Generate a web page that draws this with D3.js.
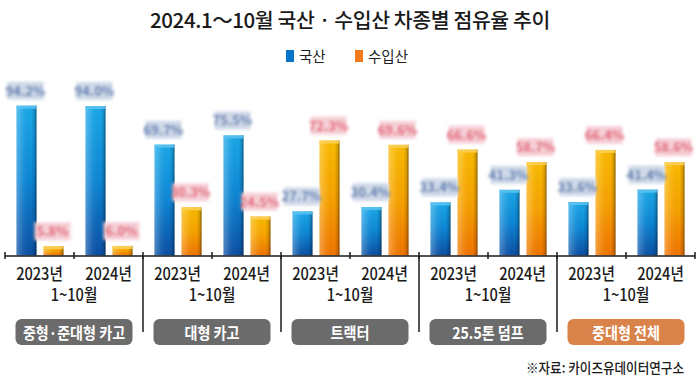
<!DOCTYPE html>
<html><head><meta charset="utf-8">
<script src="https://cdn.jsdelivr.net/npm/d3@7"></script>
<style>
html,body{margin:0;padding:0;background:#fff;}
svg{display:block;font-family:"Noto Sans CJK KR","Noto Sans",sans-serif;}
</style></head>
<body><svg id="chart" width="700" height="383"></svg>
<script>
const title = "2024.1～10월 국산 · 수입산 차종별 점유율 추이";
const groups = ["중형·준대형 카고", "대형 카고", "트랙터", "25.5톤 덤프", "중대형 전체"];
const periods = ["2023년", "2024년"];
const periodNote = "1~10월";
const series = ["국산", "수입산"];
const domestic2023 = [94.2, 69.7, 27.7, 33.4, 33.6];
const domestic2024 = [94.0, 75.5, 30.4, 41.3, 41.4];
const imported2023 = [5.8, 30.3, 72.3, 66.6, 66.4];
const imported2024 = [6.0, 24.5, 69.6, 58.7, 58.6];
const source = "※자료: 카이즈유데이터연구소";

const data = [];
groups.forEach((g, i) => {
  data.push({group: g, period: periods[0], series: series[0], value: domestic2023[i]});
  data.push({group: g, period: periods[0], series: series[1], value: imported2023[i]});
  data.push({group: g, period: periods[1], series: series[0], value: domestic2024[i]});
  data.push({group: g, period: periods[1], series: series[1], value: imported2024[i]});
});

const svg = d3.select("#chart");
const defs = svg.append("defs");

function vgrad(id, stops) {
  const g = defs.append("linearGradient").attr("id", id).attr("x1", 0).attr("y1", 0).attr("x2", 0).attr("y2", 1);
  stops.forEach(s => g.append("stop").attr("offset", s[0]).attr("stop-color", s[1]).attr("stop-opacity", s[2] == null ? 1 : s[2]));
}
function hgrad(id, stops) {
  const g = defs.append("linearGradient").attr("id", id).attr("x1", 0).attr("y1", 0).attr("x2", 1).attr("y2", 0);
  stops.forEach(s => g.append("stop").attr("offset", s[0]).attr("stop-color", s[1]).attr("stop-opacity", s[2] == null ? 1 : s[2]));
}
vgrad("gBlue", [[0, "#1aa8e8"], [0.5, "#0d86d4"], [1, "#0c4fa3"]]);
vgrad("gOrange", [[0, "#f9ba00"], [0.5, "#f6a200"], [1, "#ef7400"]]);
hgrad("gShade", [[0, "#ffffff", 0.28], [0.35, "#ffffff", 0.06], [0.75, "#000000", 0], [0.9, "#000000", 0.15], [1, "#000000", 0.45]]);
defs.append("filter").attr("id", "blur").attr("x", "-20%").attr("y", "-40%").attr("width", "140%").attr("height", "180%")
  .append("feGaussianBlur").attr("stdDeviation", 1.6);

const colors = {"국산": "#0a73c8", "수입산": "#f07a1c"};
const fills = {"국산": "url(#gBlue)", "수입산": "url(#gOrange)"};
const caps = {"국산": "#5cc3f0", "수입산": "#fcd05a"};

const x0 = d3.scaleBand().domain(groups).range([5, 695]);
const x1 = d3.scaleBand().domain(periods).range([0, x0.bandwidth()]);
const x2 = d3.scaleBand().domain(series).range([11.5, 58.5]).paddingInner(0.26);
const y = d3.scaleLinear().domain([0, 100]).range([255.5, 96.5]);

// title
svg.append("text").attr("x", 350).attr("y", 28).attr("text-anchor", "middle")
  .attr("font-size", 20.5).attr("font-weight", 500).attr("fill", "#1a1a1a").attr("letter-spacing", -0.4)
  .text(title);

// legend
const legendItems = [{s: series[0], x: 286}, {s: series[1], x: 355}];
const lg = svg.append("g");
legendItems.forEach(it => {
  lg.append("rect").attr("x", it.x).attr("y", 50).attr("width", 8).attr("height", 12).attr("fill", colors[it.s]);
  lg.append("text").attr("x", it.x + 13).attr("y", 61.5).attr("font-size", 14.5).attr("fill", "#222").text(it.s);
});

// bars
const gb = svg.append("g");
const bars = gb.selectAll("g.bar").data(data).join("g").attr("class", "bar")
  .attr("transform", d => `translate(${x0(d.group) + x1(d.period) + x2(d.series)},0)`);
bars.append("rect").attr("x", 0).attr("y", d => y(d.value)).attr("width", x2.bandwidth())
  .attr("height", d => y(0) - y(d.value)).attr("fill", d => fills[d.series]);
bars.append("rect").attr("x", 0).attr("y", d => y(d.value)).attr("width", x2.bandwidth())
  .attr("height", d => y(0) - y(d.value)).attr("fill", "url(#gShade)");
bars.append("rect").attr("x", 0).attr("y", d => y(d.value)).attr("width", x2.bandwidth())
  .attr("height", d => Math.min(3, y(0) - y(d.value))).attr("fill", d => caps[d.series]).attr("opacity", 0.85);

// value labels (blurred as in reference)
const lab = gb.selectAll("g.lab").data(data).join("g").attr("class", "lab")
  .attr("transform", d => `translate(${x0(d.group) + x1(d.period) + x2(d.series) + x2.bandwidth() / 2 - 1},${y(d.value) - 15})`)
  .attr("filter", "url(#blur)");
lab.append("rect").attr("x", -18).attr("y", -9).attr("width", 36).attr("height", 18)
  .attr("fill", d => d.series === series[0] ? "#cfd9e8" : "#f6d0d7");
lab.append("text").attr("text-anchor", "middle").attr("y", 5).attr("font-size", 13).attr("font-weight", 700)
  .attr("fill", d => d.series === series[0] ? "#5577ad" : "#e0566e")
  .text(d => d.value.toFixed(1) + "%");

// axis
const ax = svg.append("g").attr("stroke", "#1a1a1a").attr("stroke-width", 1.5);
ax.append("line").attr("x1", 5).attr("x2", 695).attr("y1", 256).attr("y2", 256);
const subTicks = [];
groups.forEach(g => { periods.forEach(p => subTicks.push(x0(g) + x1(p))); });
subTicks.push(695);
ax.selectAll("line.t").data(subTicks).join("line").attr("class", "t")
  .attr("x1", d => d).attr("x2", d => d).attr("y1", 252).attr("y2", 259);
ax.selectAll("line.sep").data(groups.slice(1)).join("line").attr("class", "sep")
  .attr("x1", d => x0(d)).attr("x2", d => x0(d)).attr("y1", 256).attr("y2", 332);

// period labels
const tl = svg.append("g").attr("fill", "#1a1a1a");
groups.forEach(g => {
  periods.forEach(p => {
    tl.append("text").attr("transform", `translate(${x0(g) + x1(p) + x1.bandwidth() / 2},280) scale(0.86,1)`)
      .attr("text-anchor", "middle").attr("font-size", 17).attr("font-weight", 500).text(p);
  });
  tl.append("text").attr("transform", `translate(${x0(g) + x0.bandwidth() / 2},301) scale(0.86,1)`)
    .attr("text-anchor", "middle").attr("font-size", 17).attr("font-weight", 500).text(periodNote);
});

// group boxes
const bx = svg.append("g");
groups.forEach((g, i) => {
  const cx = x0(g) + x0.bandwidth() / 2;
  bx.append("rect").attr("x", cx - 58.5).attr("y", 319).attr("width", 117).attr("height", 26).attr("rx", 6)
    .attr("fill", i === groups.length - 1 ? "#d9824a" : "#6b6b6b");
  bx.append("text").attr("transform", `translate(${cx},338.5) scale(0.88,1)`).attr("text-anchor", "middle")
    .attr("font-size", 16).attr("font-weight", 700).attr("fill", "#fff").text(g);
});

// source
svg.append("text").attr("transform", "translate(684,373) scale(0.9,1)").attr("text-anchor", "end")
  .attr("font-size", 14).attr("font-weight", 500).attr("fill", "#1a1a1a").text(source);
</script></body></html>
